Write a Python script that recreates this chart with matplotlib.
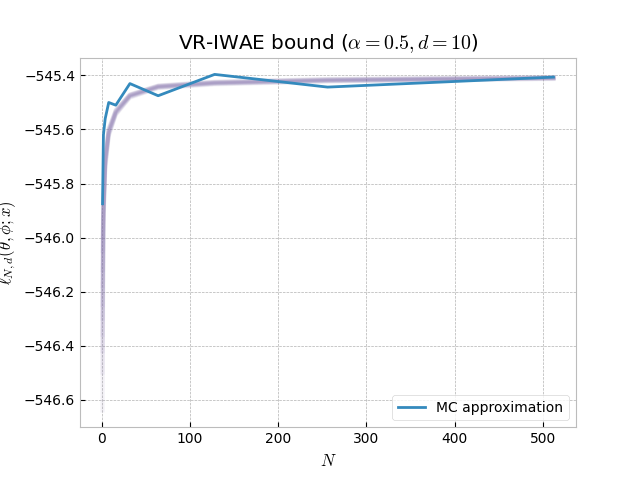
import matplotlib
matplotlib.use("Agg")
import matplotlib.pyplot as plt

plt.style.use("bmh")
plt.rcParams["axes.facecolor"] = "white"
plt.rcParams["figure.facecolor"] = "white"

N = [1, 2, 4, 8, 16, 32, 64, 128, 256, 512]

mc_approx = [-545.875, -545.62, -545.56, -545.50, -545.51, -545.43,
             -545.475, -545.396, -545.443, -545.406]

runs = [
    [-546.00, -545.87, -545.70, -545.596, -545.527, -545.470, -545.437, -545.423, -545.413, -545.406],
    [-546.05, -545.88, -545.70, -545.599, -545.529, -545.471, -545.438, -545.424, -545.414, -545.407],
    [-546.12, -545.88, -545.71, -545.602, -545.531, -545.472, -545.439, -545.425, -545.415, -545.407],
    [-546.18, -545.89, -545.71, -545.605, -545.533, -545.473, -545.440, -545.426, -545.416, -545.408],
    [-546.25, -545.90, -545.72, -545.608, -545.535, -545.474, -545.441, -545.427, -545.417, -545.409],
    [-546.30, -545.90, -545.72, -545.611, -545.537, -545.475, -545.442, -545.428, -545.418, -545.410],
    [-546.36, -545.91, -545.73, -545.614, -545.539, -545.477, -545.443, -545.429, -545.419, -545.410],
    [-546.42, -545.92, -545.73, -545.617, -545.541, -545.478, -545.444, -545.430, -545.420, -545.411],
    [-546.50, -545.93, -545.74, -545.620, -545.543, -545.480, -545.445, -545.431, -545.421, -545.412],
    [-546.64, -545.95, -545.75, -545.624, -545.546, -545.482, -545.447, -545.433, -545.422, -545.413],
]

fig, ax = plt.subplots(figsize=(6.4, 4.8), dpi=100)
for r in runs:
    ax.plot(N, r, color="#7A68A6", alpha=0.09, linewidth=3)
ax.plot(N, mc_approx, color="#348ABD", linewidth=2, label="MC approximation")

ax.set_title(r"VR-IWAE bound ($\alpha=0.5, d=10$)")
ax.set_xlabel(r"$N$")
ax.set_ylabel(r"$\ell_{N,d}(\theta,\phi;x)$")
ax.legend(loc="lower right")
fig.savefig("out.png", dpi=100)
